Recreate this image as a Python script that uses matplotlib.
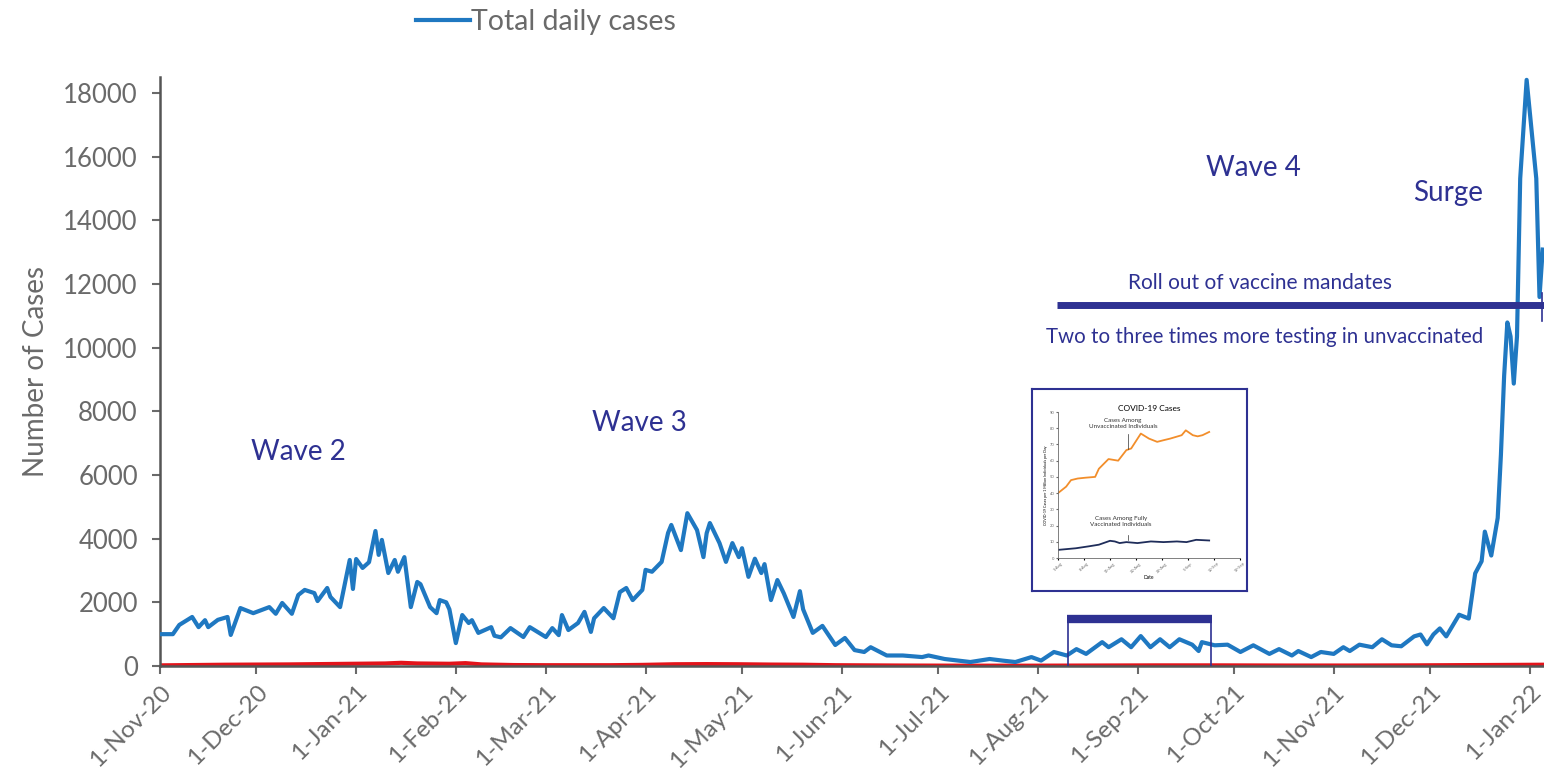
import pandas as pd
import matplotlib
matplotlib.use("Agg")
import matplotlib.pyplot as plt
import matplotlib.dates as mdates
from matplotlib.lines import Line2D

# data (day offset from 1-Nov-20, value)
start = pd.Timestamp("2020-11-01")

case_day = [0, 4, 6, 10, 12, 14, 15, 18, 21, 22, 25, 29, 34, 36, 38, 41, 43, 45, 48, 49,
            52, 53, 56, 59, 60, 61, 63, 65, 67, 68, 69, 71, 73, 74, 76, 78, 80, 81, 84, 86,
            87, 89, 90, 92, 94, 96, 97, 99, 103, 104, 106, 109, 113, 115, 120, 122, 124, 125, 127, 130,
            132, 134, 135, 138, 141, 143, 145, 147, 150, 151, 153, 156, 158, 159, 162, 164, 167, 169, 170, 171,
            174, 176, 178, 180, 181, 183, 185, 187, 188, 190, 192, 194, 197, 199, 200, 203, 206, 210, 213, 216,
            219, 221, 226, 231, 237, 239, 244, 252, 258, 262, 266, 271, 274, 278, 282, 285, 288, 293, 295, 299,
            302, 305, 308, 311, 314, 317, 321, 323, 324, 328, 332, 336, 340, 345, 348, 352, 354, 358, 361, 365,
            368, 370, 373, 377, 380, 383, 386, 390, 392, 394, 396, 398, 400, 404, 407, 409, 411, 412, 414, 416,
            417, 418, 419, 420, 421, 422, 423, 425, 428, 429, 430]
cases = [1000, 1000, 1290, 1540, 1220, 1440, 1220, 1450, 1540, 975, 1820, 1660, 1850, 1640, 1980, 1640, 2230, 2390, 2290, 2040,
         2450, 2170, 1850, 3330, 2420, 3360, 3080, 3260, 4240, 3490, 3960, 2920, 3330, 2960, 3420, 1850, 2640, 2570, 1850, 1660,
         2070, 2000, 1780, 720, 1600, 1350, 1440, 1040, 1220, 950, 900, 1190, 910, 1220, 910, 1190, 970, 1600, 1130, 1350,
         1700, 1070, 1500, 1820, 1500, 2320, 2450, 2070, 2390, 3020, 2960, 3270, 4180, 4430, 3640, 4800, 4270, 3420, 4170, 4490,
         3860, 3270, 3860, 3420, 3700, 2800, 3370, 2920, 3200, 2070, 2700, 2280, 1540, 2350, 1780, 1040, 1260, 660, 880, 500,
         440, 590, 330, 330, 280, 330, 220, 125, 220, 170, 125, 280, 170, 440, 330, 530, 380, 750, 590, 840,
         590, 940, 590, 840, 590, 840, 670, 470, 750, 650, 670, 440, 650, 380, 530, 330, 470, 280, 440, 380,
         590, 470, 670, 590, 840, 650, 620, 930, 990, 680, 990, 1180, 930, 1610, 1490, 2910, 3290, 4220, 3470, 4650,
         6630, 9110, 10790, 10350, 8870, 10350, 15310, 18410, 15310, 11590, 13080]

red_day = [0, 10, 20, 30, 40, 50, 60, 70, 75, 80, 90, 95, 100, 110, 120, 130, 140, 150, 160, 170,
           180, 190, 200, 210, 230, 250, 270, 290, 310, 330, 350, 370, 390, 410, 430]
red_vals = [20, 30, 40, 45, 50, 60, 70, 80, 100, 80, 70, 90, 50, 30, 25, 25, 25, 35, 55, 60,
            55, 45, 40, 25, 15, 10, 10, 15, 20, 20, 15, 15, 20, 30, 40]

yticks = [0, 2000, 4000, 6000, 8000, 10000, 12000, 14000, 16000, 18000]

# small embedded chart (unvaccinated vs vaccinated)
inset_day = [0, 2.2, 3.5, 5.3, 7.4, 10, 11, 13.6, 16.2, 18.4, 19.7, 22.3, 24.5, 26.7, 28.4, 30.2, 33.3, 34.4, 36.3, 37.6, 38.9, 40.7]
inset_unvax = [40, 44, 48, 49, 49.5, 50, 55, 61, 60, 66.5, 67.5, 76.7, 73.6, 71.6, 72.6, 73.6, 75.7, 78.7, 75.7, 75, 75.7, 77.7]
inset_vax_day = [0, 4.8, 8.3, 11, 14, 15.3, 16.6, 18.4, 21.4, 25, 28.4, 32, 34.6, 37.2, 40.7]
inset_vax = [5, 6, 7.2, 8.2, 10.6, 10.2, 9.2, 9.8, 9.2, 10.2, 9.8, 10.2, 9.8, 11.2, 10.8]
inset_xlabels = ["1-Aug", "8-Aug", "15-Aug", "22-Aug", "29-Aug", "5-Sep", "12-Sep", "19-Sep"]

blue = "#1f78c1"
red = "#e3141b"
navy = "#2e3192"
grey = "#6a6a6a"

plt.rcParams["font.family"] = ["Lato", "DejaVu Sans"]

fig = plt.figure(figsize=(15.44, 7.83), dpi=100)
ax = fig.add_axes([160 / 1544, 117 / 783, 1384 / 1544, 589 / 783])

t_cases = start + pd.to_timedelta(case_day, unit="D")
t_red = start + pd.to_timedelta(red_day, unit="D")

ax.plot(t_red, red_vals, color=red, lw=3, zorder=2)
ax.plot(t_cases, cases, color=blue, lw=3, zorder=3)

def d(n):
    return start + pd.Timedelta(days=n)

ax.set_xlim(d(0), d(430.4))
ax.set_ylim(0, 18500)
ax.set_yticks(yticks)
ax.xaxis.set_major_locator(mdates.MonthLocator())
ax.xaxis.set_major_formatter(mdates.DateFormatter("1-%b-%y"))
ax.tick_params(axis="both", colors=grey, labelsize=18.5, length=6, width=1.5)
ax.tick_params(axis="x", pad=5, labelsize=17.5)
ax.tick_params(axis="y", pad=10)
for lab in ax.get_xticklabels():
    lab.set_rotation(45)
    lab.set_ha("right")
    lab.set_rotation_mode("anchor")
for s in ["top", "right"]:
    ax.spines[s].set_visible(False)
for s in ["left", "bottom"]:
    ax.spines[s].set_color("#555555")
    ax.spines[s].set_linewidth(1.8)
ax.set_ylabel("Number of Cases", color=grey, fontsize=20, labelpad=10)

# annotations
ax.text(d(43), 6720, "Wave 2", color=navy, fontsize=20, ha="center", va="center")
ax.text(d(149), 7630, "Wave 3", color=navy, fontsize=20, ha="center", va="center")
ax.text(d(340), 15640, "Wave 4", color=navy, fontsize=20, ha="center", va="center")
ax.text(d(400.5), 14850, "Surge", color=navy, fontsize=20, ha="center", va="center")
ax.text(d(342), 12030, "Roll out of vaccine mandates", color=navy, fontsize=15, ha="center", va="center")
ax.text(d(343.5), 10330, "Two to three times more testing in unvaccinated", color=navy, fontsize=14.8,
        ha="center", va="center")
ax.plot([d(279), d(430.4)], [11340, 11340], color=navy, lw=5, solid_capstyle="butt", zorder=4, clip_on=False)
ax.plot([d(429.8), d(429.8)], [10850, 11700], color=navy, lw=1.2, zorder=4, clip_on=False)

ax.plot([d(282), d(327)], [1480, 1480], color=navy, lw=6, solid_capstyle="butt", zorder=4)
ax.plot([d(282.3), d(282.3)], [0, 1480], color=navy, lw=1.2, zorder=4)
ax.plot([d(326.7), d(326.7)], [0, 1480], color=navy, lw=1.2, zorder=4)

fig.legend([Line2D([0], [0], color=blue, lw=3)], ["Total daily cases"], loc="center left",
           bbox_to_anchor=(390 / 1544, 1 - 22 / 783), frameon=False, fontsize=20.5,
           handlelength=1.9, handletextpad=0.05, labelcolor=grey)

# inset picture
box = fig.add_axes([1032 / 1544, 192 / 783, 215 / 1544, 202 / 783])
box.set_xticks([])
box.set_yticks([])
for s in box.spines.values():
    s.set_color(navy)
    s.set_linewidth(1.5)

ia = fig.add_axes([1058 / 1544, 225 / 783, 182 / 1544, 146 / 783])
ia.plot(inset_day, inset_unvax, color="#f28e2b", lw=1.3)
ia.plot(inset_vax_day, inset_vax, color="#1f2d5a", lw=1.3)
ia.set_xlim(0, 49)
ia.set_ylim(0, 90)
ia.set_xticks(range(0, 50, 7))
ia.set_xticklabels(inset_xlabels, rotation=45, fontsize=3, color=grey)
ia.set_yticks(range(0, 91, 10))
ia.tick_params(axis="y", labelsize=3, colors=grey, length=1.5, pad=1)
ia.tick_params(axis="x", length=1.5, pad=1)
ia.set_title("COVID-19 Cases", fontsize=6, pad=1)
ia.set_xlabel("Date", fontsize=3.5, labelpad=1)
ia.set_ylabel("COVID-19 Cases per 1 Million Individuals per Day", fontsize=2.6, labelpad=1)
for s in ["top", "right"]:
    ia.spines[s].set_visible(False)
for s in ["left", "bottom"]:
    ia.spines[s].set_color(grey)
    ia.spines[s].set_linewidth(0.6)
ia.text(17.5, 83, "Cases Among\nUnvaccinated Individuals", fontsize=4.5, ha="center", va="center", color="#333333")
ia.plot([18.8, 18.8], [67.5, 76.5], color="#333333", lw=0.5)
ia.text(17, 22.5, "Cases Among Fully\nVaccinated Individuals", fontsize=4.5, ha="center", va="center", color="#333333")
ia.plot([18.8, 18.8], [10.8, 14.3], color="#333333", lw=0.5)

fig.savefig("out.png", dpi=100)
